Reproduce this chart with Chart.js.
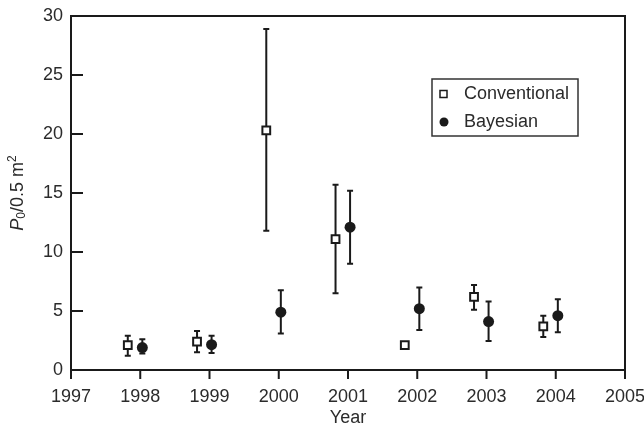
<!DOCTYPE html>
<html>
<head>
<meta charset="utf-8">
<script src="https://cdn.jsdelivr.net/npm/chart.js@4.4.1/dist/chart.umd.min.js"></script>
<style>
  html, body { margin: 0; padding: 0; background: #fff; }
  canvas { display: block; }
</style>
</head>
<body>
<canvas id="chart" width="644" height="426"></canvas>
<script>
// values
const years = [1998, 1999, 2000, 2001, 2002, 2003, 2004];
const conventional = [2.1, 2.4, 20.3, 11.1, 2.1, 6.2, 3.7];
const conventionalLow = [1.2, 1.5, 11.8, 6.5, 2.0, 5.1, 2.8];
const conventionalHigh = [2.9, 3.3, 28.9, 15.7, 2.2, 7.2, 4.6];
const bayesian = [1.9, 2.15, 4.9, 12.1, 5.2, 4.1, 4.6];
const bayesianLow = [1.4, 1.45, 3.1, 9.0, 3.4, 2.45, 3.2];
const bayesianHigh = [2.6, 2.9, 6.75, 15.2, 7.0, 5.8, 6.0];
const xTicks = [1997, 1998, 1999, 2000, 2001, 2002, 2003, 2004, 2005];
const yTicks = [0, 5, 10, 15, 20, 25, 30];

// side-by-side offset of the two series around each year
const CONV_SHIFT = -0.18;
const BAYES_SHIFT = 0.03;

const INK = "#1a1a1a";
const TEXT = "#2b2b2b";
const FONT = "'Liberation Sans', Arial, sans-serif";

function points(vals, lo, hi, shift) {
  return years.map((y, i) => ({ x: y + shift, y: vals[i], lo: lo[i], hi: hi[i] }));
}

const errorBars = {
  id: "errorBars",
  beforeDatasetsDraw(chart) {
    const { ctx, scales: { x, y } } = chart;
    ctx.save();
    ctx.strokeStyle = INK;
    ctx.lineWidth = 2;
    chart.data.datasets.forEach(ds => {
      ds.data.forEach(p => {
        const px = x.getPixelForValue(p.x);
        const top = y.getPixelForValue(p.hi);
        const bot = y.getPixelForValue(p.lo);
        ctx.beginPath();
        ctx.moveTo(px, top); ctx.lineTo(px, bot);
        ctx.moveTo(px - 3, top); ctx.lineTo(px + 3, top);
        ctx.moveTo(px - 3, bot); ctx.lineTo(px + 3, bot);
        ctx.stroke();
      });
    });
    ctx.restore();
  }
};

const frame = {
  id: "frame",
  afterDraw(chart) {
    const { ctx, chartArea: a, scales: { x, y } } = chart;
    ctx.save();
    ctx.strokeStyle = INK;
    ctx.lineWidth = 2;
    ctx.strokeRect(a.left, a.top, a.right - a.left, a.bottom - a.top);
    ctx.beginPath();
    yTicks.slice(1, -1).forEach(v => {
      const py = y.getPixelForValue(v);
      ctx.moveTo(a.left, py); ctx.lineTo(a.left + 12, py);
    });
    xTicks.forEach(v => {
      const px = x.getPixelForValue(v);
      ctx.moveTo(px, a.bottom); ctx.lineTo(px, a.bottom + 9);
    });
    ctx.stroke();

    // y axis title with italic P, subscript 0 and superscript 2
    const parts = [
      { t: "P", f: "italic 18px " + FONT, dy: 0 },
      { t: "0", f: "12px " + FONT, dy: 4 },
      { t: "/0.5 m", f: "18px " + FONT, dy: 0 },
      { t: "2", f: "12px " + FONT, dy: -5 }
    ];
    let w = 0;
    parts.forEach(p => { ctx.font = p.f; p.w = ctx.measureText(p.t).width; w += p.w; });
    ctx.translate(18, (a.top + a.bottom) / 2);
    ctx.rotate(-Math.PI / 2);
    ctx.fillStyle = TEXT;
    ctx.textBaseline = "middle";
    let cx = -w / 2;
    parts.forEach(p => { ctx.font = p.f; ctx.fillText(p.t, cx, p.dy); cx += p.w; });
    ctx.restore();

    // legend box
    ctx.save();
    const lx = 432, ly = 79, lw = 146, lh = 57;
    ctx.strokeStyle = "#333";
    ctx.lineWidth = 1.5;
    ctx.strokeRect(lx, ly, lw, lh);
    ctx.font = "18px " + FONT;
    ctx.fillStyle = TEXT;
    ctx.textBaseline = "middle";
    chart.data.datasets.forEach((ds, i) => {
      const my = ly + 15 + i * 28;
      ctx.fillText(ds.label, lx + 32, my);
      ctx.beginPath();
      if (ds.pointStyle === "rect") {
        ctx.fillStyle = "#fff";
        ctx.strokeStyle = INK;
        ctx.lineWidth = 1.5;
        ctx.rect(lx + 8, my - 3.5, 7, 7);
        ctx.fill(); ctx.stroke();
      } else {
        ctx.fillStyle = INK;
        ctx.arc(lx + 12, my, 4.5, 0, Math.PI * 2);
        ctx.fill();
      }
      ctx.fillStyle = TEXT;
    });
    ctx.restore();
  }
};

new Chart(document.getElementById("chart"), {
  type: "scatter",
  data: {
    datasets: [
      {
        label: "Conventional",
        data: points(conventional, conventionalLow, conventionalHigh, CONV_SHIFT),
        pointStyle: "rect",
        pointRadius: 5.5,
        pointBorderWidth: 2,
        pointBackgroundColor: "#fff",
        pointBorderColor: INK
      },
      {
        label: "Bayesian",
        data: points(bayesian, bayesianLow, bayesianHigh, BAYES_SHIFT),
        pointStyle: "circle",
        pointRadius: 5.5,
        pointBorderWidth: 0,
        pointBackgroundColor: INK,
        pointBorderColor: INK
      }
    ]
  },
  options: {
    responsive: false,
    animation: false,
    layout: { padding: { left: 0, right: 19, top: 16, bottom: 0 } },
    plugins: {
      legend: { display: false },
      tooltip: { enabled: false }
    },
    scales: {
      x: {
        type: "linear",
        min: 1997,
        max: 2005,
        afterBuildTicks: s => { s.ticks = xTicks.map(v => ({ value: v })); },
        afterFit: s => { s.height = 56; s.paddingLeft = 0; s.paddingRight = 0; },
        grid: { display: false, drawTicks: false },
        border: { display: false },
        ticks: {
          color: TEXT,
          padding: 16,
          maxRotation: 0,
          autoSkip: false,
          font: { family: FONT, size: 18 },
          callback: v => String(v)
        },
        title: {
          display: true,
          text: "Year",
          color: TEXT,
          padding: { top: 0, bottom: 0 },
          font: { family: FONT, size: 18, lineHeight: 0.9 }
        }
      },
      y: {
        min: 0,
        max: 30,
        afterBuildTicks: s => { s.ticks = yTicks.map(v => ({ value: v })); },
        afterFit: s => { s.width = 71; s.paddingTop = 0; s.paddingBottom = 0; },
        grid: { display: false, drawTicks: false },
        border: { display: false },
        ticks: {
          color: TEXT,
          padding: 8,
          font: { family: FONT, size: 18 }
        }
      }
    }
  },
  plugins: [errorBars, frame]
});
</script>
</body>
</html>
